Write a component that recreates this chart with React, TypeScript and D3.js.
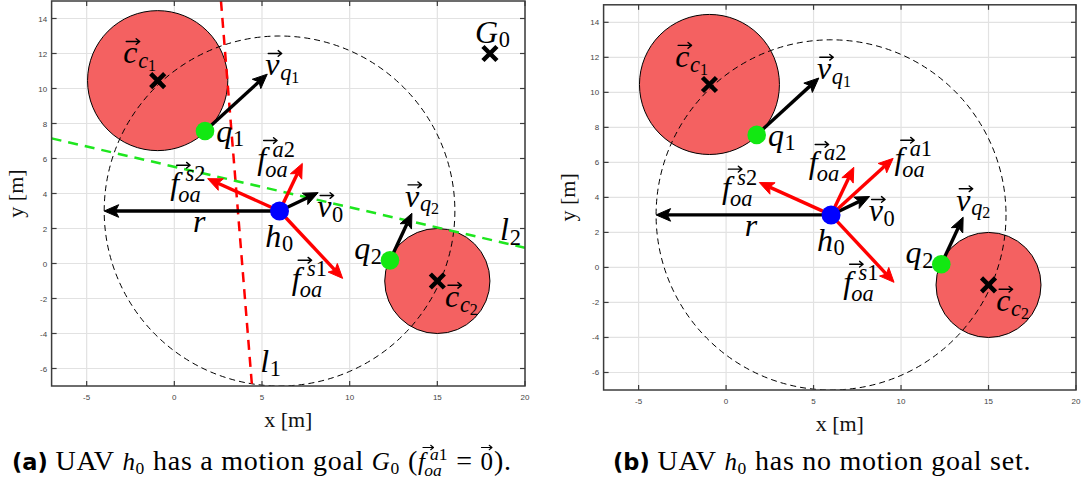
import React from 'react';
import * as d3 from 'd3';

const SERIF = '"Liberation Serif", "Times New Roman", serif';
const SANS = '"Liberation Sans", Arial, sans-serif';
const BOLD_SANS = '"DejaVu Sans", "Liberation Sans", sans-serif';

// axes
const X_DOMAIN: [number, number] = [-7, 20];
const Y_DOMAIN: [number, number] = [-7, 15];
const X_TICKS = [-5, 0, 5, 10, 15, 20];
const Y_TICKS = [-6, -4, -2, 0, 2, 4, 6, 8, 10, 12, 14];

// circular obstacles c_c1, c_c2
const obstacleX = [-0.95, 15.0];
const obstacleY = [10.45, -1.0];
const obstacleR = [4, 3];

// UAV h0, its velocity and sensing range r
const uavX = 6;
const uavY = 3;
const sensingRange = 10;
const uavVelTipX = 8.2;
const uavVelTipY = 4.05;

// closest obstacle points q1, q2 and their velocities
const closestX = [1.75, 12.3];
const closestY = [7.57, 0.18];
const closestVelTipX = [5.3, 13.55];
const closestVelTipY = [10.82, 2.87];

// obstacle-avoidance force tips: s1, s2, a2, a1
const forceTipX = [9.6, 1.9, 7.3, 9.55];
const forceTipY = [-0.85, 4.85, 5.72, 6.23];

// separating lines l1, l2
const l1X = [2.66, 4.43];
const l1Y = [15, -7];
const l2X = [-7, 20];
const l2Y = [7.15, 0.9];

// motion goal G0
const goalX = 18;
const goalY = 12;

type MathSpec = { base: string; vec?: boolean; sub?: string; subsub?: string; sup?: string };
type Anno = MathSpec & { at: [number, number] };

const COMMON_LABELS: Anno[] = [
  { base: 'c', vec: true, sub: 'c', subsub: '1', at: [-2.91, 11.44] },
  { base: 'v', vec: true, sub: 'q', subsub: '1', at: [5.19, 10.76] },
  { base: 'q', sub: '1', at: [2.39, 6.95] },
  { base: 'f', vec: true, sup: 's2', sub: 'oa', at: [-0.23, 3.97] },
  { base: 'f', vec: true, sup: 'a2', sub: 'oa', at: [4.73, 5.38] },
  { base: 'v', vec: true, sub: '0', at: [8.15, 2.64] },
  { base: 'h', sub: '0', at: [5.19, 0.95] },
  { base: 'r', at: [1.07, 1.79] },
  { base: 'f', vec: true, sup: 's1', sub: 'oa', at: [6.7, -1.46] },
  { base: 'q', sub: '2', at: [10.26, 0.25] },
  { base: 'v', vec: true, sub: 'q', subsub: '2', at: [13.16, 3.25] },
  { base: 'c', vec: true, sub: 'c', subsub: '2', at: [15.44, -2.49] },
];

const GOAL_LABELS: Anno[] = [
  { base: 'G', sub: '0', at: [17.15, 12.6] },
  { base: 'l', sub: '1', at: [4.9, -6.2] },
  { base: 'l', sub: '2', at: [18.58, 1.33] },
];

const FREE_LABELS: Anno[] = [
  { base: 'f', vec: true, sup: 'a1', sub: 'oa', at: [9.62, 5.62] },
];

type Token = { bold?: string; text?: string; math?: MathSpec };

const CAPTION_A: Token[] = [
  { bold: '(a)' },
  { text: ' UAV ' },
  { math: { base: 'h', sub: '0' } },
  { text: ' has a motion goal ' },
  { math: { base: 'G', sub: '0' } },
  { text: ' (' },
  { math: { base: 'f', vec: true, sup: 'a1', sub: 'oa' } },
  { text: ' = ' },
  { math: { base: '0', vec: true } },
  { text: ').' },
];

const CAPTION_B: Token[] = [
  { bold: '(b)' },
  { text: ' UAV ' },
  { math: { base: 'h', sub: '0' } },
  { text: ' has no motion goal set.' },
];

type PanelCfg = {
  id: string;
  left: number;
  right: number;
  top: number;
  bottom: number;
  forces: number[];
  withGoal: boolean;
  caption: Token[];
  captionX: number;
};

const PANELS: PanelCfg[] = [
  { id: 'a', left: 51.6, right: 525, top: 1, bottom: 386, forces: [0, 1, 2], withGoal: true, caption: CAPTION_A, captionX: 12 },
  { id: 'b', left: 603.6, right: 1076, top: 4.8, bottom: 390, forces: [0, 1, 2, 3], withGoal: false, caption: CAPTION_B, captionX: 613 },
];

const MATH_SIZE = 32;
const CAPTION_SIZE = 28;
const CAPTION_MATH_SIZE = 25;
const CAPTION_SPACING = 0.75;
const CAPTION_BOLD_SIZE = 22.5;
const CAPTION_BASELINE = 470;

let measureCtx: CanvasRenderingContext2D | null = null;
function fontSpec(size: number, italic: boolean, family = SERIF, bold = false) {
  return `${italic ? 'italic ' : ''}${bold ? 'bold ' : ''}${size}px ${family}`;
}
function textWidth(text: string, font: string) {
  if (!measureCtx) measureCtx = document.createElement('canvas').getContext('2d');
  measureCtx!.font = font;
  return measureCtx!.measureText(text).width;
}

const isLetter = (s: string) => /[A-Za-z]/.test(s);

function scriptRun(str: string, x: number, y: number, size: number, key: string) {
  const nodes: React.ReactNode[] = [];
  let cx = x;
  Array.from(str).forEach((ch, i) => {
    const italic = isLetter(ch);
    nodes.push(
      <text key={`${key}-${i}`} x={cx} y={y} fontFamily={SERIF} fontSize={size} fontStyle={italic ? 'italic' : 'normal'}>
        {ch}
      </text>
    );
    cx += textWidth(ch, fontSpec(size, italic));
  });
  return { nodes, width: cx - x };
}

function renderMath(spec: MathSpec, x: number, y: number, F: number, key: string) {
  const italic = isLetter(spec.base);
  const isF = spec.base === 'f';
  const bw = textWidth(spec.base, fontSpec(F, italic));
  const nodes: React.ReactNode[] = [
    <text key={`${key}-b`} x={x} y={y} fontFamily={SERIF} fontSize={F} fontStyle={italic ? 'italic' : 'normal'}>
      {spec.base}
    </text>,
  ];
  if (spec.vec) {
    const len = 0.42 * F;
    const cxA = x + bw * 0.5 + (isF ? 0.27 * F : italic ? 0.08 * F : 0);
    const ay = y - (isF || !italic ? 0.9 * F : 0.68 * F);
    const x0 = cxA - len / 2;
    const x1 = cxA + len / 2;
    const h = 0.11 * F;
    nodes.push(
      <path
        key={`${key}-v`}
        d={`M${x0},${ay}H${x1}M${x1 - h},${ay - h * 0.8}L${x1},${ay}L${x1 - h},${ay + h * 0.8}`}
        fill="none"
        stroke="#000"
        strokeWidth={Math.max(1, F * 0.045)}
        strokeLinecap="round"
        strokeLinejoin="round"
      />
    );
  }
  let end = x + bw;
  if (spec.sub) {
    const sx = x + bw + (isF ? -0.03 * F : 0.02 * F);
    const sy = y + (spec.sup ? 0.25 * F : 0.14 * F);
    const r = scriptRun(spec.sub, sx, sy, 0.7 * F, `${key}-s`);
    nodes.push(...r.nodes);
    let e = sx + r.width;
    if (spec.subsub) {
      const rr = scriptRun(spec.subsub, e, sy + 0.1 * F, 0.5 * F, `${key}-ss`);
      nodes.push(...rr.nodes);
      e += rr.width;
    }
    end = Math.max(end, e);
  }
  if (spec.sup) {
    const sx = x + bw + (isF ? 0.2 * F : 0.05 * F);
    const sy = y - 0.4 * F;
    const r = scriptRun(spec.sup, sx, sy, 0.7 * F, `${key}-p`);
    nodes.push(...r.nodes);
    end = Math.max(end, sx + r.width);
  }
  return { nodes, width: end - x };
}

function quiver(x1: number, y1: number, x2: number, y2: number, color: string, key: string) {
  const dx = x2 - x1;
  const dy = y2 - y1;
  const L = Math.hypot(dx, dy);
  const ux = dx / L;
  const uy = dy / L;
  const nx = -uy;
  const ny = ux;
  const hl = 14.5;
  const hw = 6.3;
  const bx = x2 - ux * hl;
  const by = y2 - uy * hl;
  const kx = x2 - ux * hl * 0.78;
  const ky = y2 - uy * hl * 0.78;
  return (
    <g key={key}>
      <line x1={x1} y1={y1} x2={kx} y2={ky} stroke={color} strokeWidth={3.4} />
      <path
        d={`M${x2},${y2}L${bx + nx * hw},${by + ny * hw}L${kx},${ky}L${bx - nx * hw},${by - ny * hw}Z`}
        fill={color}
        stroke={color}
        strokeWidth={1}
        strokeLinejoin="miter"
      />
    </g>
  );
}

function cross(cx: number, cy: number, key: string) {
  const s = 7;
  return (
    <path
      key={key}
      d={`M${cx - s},${cy - s}L${cx + s},${cy + s}M${cx - s},${cy + s}L${cx + s},${cy - s}`}
      stroke="#000"
      strokeWidth={4.5}
    />
  );
}

function Panel({ cfg }: { cfg: PanelCfg }) {
  const x = d3.scaleLinear().domain(X_DOMAIN).range([cfg.left, cfg.right]);
  const y = d3.scaleLinear().domain(Y_DOMAIN).range([cfg.bottom, cfg.top]);
  const clipId = `plot-clip-${cfg.id}`;
  const line = d3.line<[number, number]>().x((d) => x(d[0])).y((d) => y(d[1]));
  const axisColor = '#3c3c3c';
  const tickLen = 5;

  const labels = [...COMMON_LABELS, ...(cfg.withGoal ? GOAL_LABELS : FREE_LABELS)];

  // caption layout
  const capNodes: React.ReactNode[] = [];
  let cx = cfg.captionX;
  cfg.caption.forEach((tok, i) => {
    if (tok.bold) {
      capNodes.push(
        <text key={`cap-${i}`} x={cx} y={CAPTION_BASELINE} fontFamily={BOLD_SANS} fontWeight="bold" fontSize={CAPTION_BOLD_SIZE}>
          {tok.bold}
        </text>
      );
      cx += textWidth(tok.bold, fontSpec(CAPTION_BOLD_SIZE, false, BOLD_SANS, true));
    } else if (tok.text) {
      capNodes.push(
        <text
          key={`cap-${i}`}
          x={cx}
          y={CAPTION_BASELINE}
          fontFamily={SERIF}
          fontSize={CAPTION_SIZE}
          letterSpacing={CAPTION_SPACING}
          style={{ whiteSpace: 'pre' }}
        >
          {tok.text}
        </text>
      );
      cx += textWidth(tok.text, fontSpec(CAPTION_SIZE, false)) + tok.text.length * CAPTION_SPACING;
    } else if (tok.math) {
      const r = renderMath(tok.math, cx, CAPTION_BASELINE, CAPTION_MATH_SIZE, `cap-${i}`);
      capNodes.push(...r.nodes);
      cx += r.width + 1;
    }
  });

  return (
    <g>
      <defs>
        <clipPath id={clipId}>
          <rect x={cfg.left} y={cfg.top} width={cfg.right - cfg.left} height={cfg.bottom - cfg.top} />
        </clipPath>
      </defs>
      <rect x={cfg.left} y={cfg.top} width={cfg.right - cfg.left} height={cfg.bottom - cfg.top} fill="#fff" />
      {/* grid */}
      <g stroke="#e2e2e2" strokeWidth={1.2}>
        {X_TICKS.map((t) => (
          <line key={`gx${t}`} x1={x(t)} x2={x(t)} y1={cfg.top} y2={cfg.bottom} />
        ))}
        {Y_TICKS.map((t) => (
          <line key={`gy${t}`} x1={cfg.left} x2={cfg.right} y1={y(t)} y2={y(t)} />
        ))}
      </g>

      <g clipPath={`url(#${clipId})`}>
        {/* obstacles */}
        {obstacleX.map((ox, i) => (
          <ellipse
            key={`obs${i}`}
            cx={x(ox)}
            cy={y(obstacleY[i])}
            rx={x(ox + obstacleR[i]) - x(ox)}
            ry={y(obstacleY[i]) - y(obstacleY[i] + obstacleR[i])}
            fill="#f46161"
            stroke="#000"
            strokeWidth={1}
          />
        ))}
        {/* sensing range */}
        <ellipse
          cx={x(uavX)}
          cy={y(uavY)}
          rx={x(uavX + sensingRange) - x(uavX)}
          ry={y(uavY) - y(uavY + sensingRange)}
          fill="none"
          stroke="#000"
          strokeWidth={1}
          strokeDasharray="6 4"
        />
        {cfg.withGoal && (
          <>
            <path d={line(l1X.map((v, i) => [v, l1Y[i]]) as [number, number][]) || ''} stroke="#ff0000" strokeWidth={2.5} strokeDasharray="10 7" fill="none" />
            <path d={line(l2X.map((v, i) => [v, l2Y[i]]) as [number, number][]) || ''} stroke="#1ee61e" strokeWidth={2.5} strokeDasharray="10 7" fill="none" />
          </>
        )}
        {/* sensing radius r */}
        {quiver(x(uavX), y(uavY), x(uavX - sensingRange), y(uavY), '#000', 'r')}
        {/* neighbour velocities */}
        {closestX.map((qx, i) =>
          quiver(x(qx), y(closestY[i]), x(closestVelTipX[i]), y(closestVelTipY[i]), '#000', `vq${i}`)
        )}
        {/* UAV velocity */}
        {quiver(x(uavX), y(uavY), x(uavVelTipX), y(uavVelTipY), '#000', 'v0')}
        {/* avoidance forces */}
        {cfg.forces.map((fi) => quiver(x(uavX), y(uavY), x(forceTipX[fi]), y(forceTipY[fi]), '#ff0000', `f${fi}`))}
        {/* points */}
        {closestX.map((qx, i) => (
          <circle key={`q${i}`} cx={x(qx)} cy={y(closestY[i])} r={9.3} fill="#12e812" />
        ))}
        <circle cx={x(uavX)} cy={y(uavY)} r={9.5} fill="#0000ff" />
        {obstacleX.map((ox, i) => cross(x(ox), y(obstacleY[i]), `cc${i}`))}
        {cfg.withGoal && cross(x(goalX), y(goalY), 'goal')}
      </g>

      {/* math annotations */}
      <g fill="#000">
        {labels.map((lb, i) => renderMath(lb, x(lb.at[0]), y(lb.at[1]), MATH_SIZE, `lb${cfg.id}${i}`).nodes)}
      </g>

      {/* axes box and ticks */}
      <rect
        x={cfg.left}
        y={cfg.top}
        width={cfg.right - cfg.left}
        height={cfg.bottom - cfg.top}
        fill="none"
        stroke={axisColor}
        strokeWidth={1.5}
      />
      <g stroke={axisColor} strokeWidth={1.2}>
        {X_TICKS.map((t) => (
          <g key={`tx${t}`}>
            <line x1={x(t)} x2={x(t)} y1={cfg.bottom} y2={cfg.bottom - tickLen} />
            <line x1={x(t)} x2={x(t)} y1={cfg.top} y2={cfg.top + tickLen} />
          </g>
        ))}
        {Y_TICKS.map((t) => (
          <g key={`ty${t}`}>
            <line x1={cfg.left} x2={cfg.left + tickLen} y1={y(t)} y2={y(t)} />
            <line x1={cfg.right} x2={cfg.right - tickLen} y1={y(t)} y2={y(t)} />
          </g>
        ))}
      </g>
      <g fontFamily={SANS} fontSize={8} fill="#444">
        {X_TICKS.map((t) => (
          <text key={`lx${t}`} x={x(t)} y={cfg.bottom + 13.5} textAnchor="middle">
            {t}
          </text>
        ))}
        {Y_TICKS.map((t) => (
          <text key={`ly${t}`} x={cfg.left - 4.5} y={y(t) + 3} textAnchor="end">
            {t}
          </text>
        ))}
      </g>
      <text
        x={(cfg.left + cfg.right) / 2}
        y={cfg.bottom + 41}
        textAnchor="middle"
        fontFamily={SERIF}
        fontSize={22}
        fill="#111"
      >
        x [m]
      </text>
      <text
        transform={`translate(${cfg.left - 29},${(cfg.top + cfg.bottom) / 2}) rotate(-90)`}
        textAnchor="middle"
        fontFamily={SERIF}
        fontSize={22}
        fill="#111"
      >
        y [m]
      </text>

      {/* caption */}
      <g fill="#000">{capNodes}</g>
    </g>
  );
}

export default function App() {
  return (
    <svg
      width={1091}
      height={489}
      viewBox="0 0 1091 489"
      style={{ position: 'absolute', left: 0, top: 0, background: '#fff' }}
      xmlns="http://www.w3.org/2000/svg"
    >
      {PANELS.map((p) => (
        <Panel key={p.id} cfg={p} />
      ))}
    </svg>
  );
}
